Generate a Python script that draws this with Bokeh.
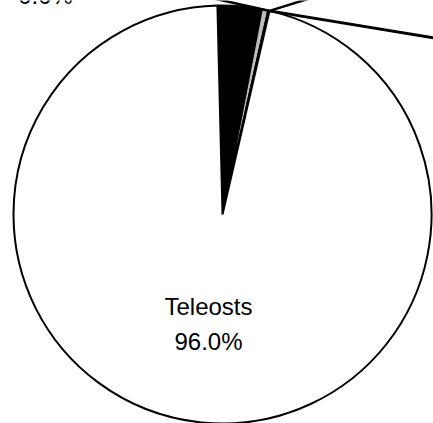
import math
from bokeh.plotting import figure
from bokeh.models import Range1d, ColumnDataSource
from bokeh.core.properties import value
from bokeh.embed import file_html
from bokeh.resources import INLINE

# ---- data ----
categories = ["Elasmobranchs", "Holocephalans", "Agnathans", "Sarcopterygians", "Chondrosteans", "Teleosts"]
percent = [3.4, 0.5, 0.1, 0.0, 0.0, 96.0]
pct_labels = ["3.4%", "0.5%", "0.1%", "0.0%", "0.0%", "96.0%"]

# ---- styles ----
fill_colors = ["black", "#bdbdbd", "white", "white", "white", "white"]

# ---- layout (page pixel coordinates, y downward) ----
M = 0
W, H = 433 - M, 423 - M
CX, CY, R = 222, 214, 209
START = -1.4     # degrees clockwise from 12 o'clock where first slice begins

p = figure(width=W, height=H, output_backend="svg", toolbar_location=None,
           x_range=Range1d(M, M + W), y_range=Range1d(-(M + H), -M),
           min_border=0, match_aspect=False)
p.axis.visible = False
p.grid.visible = False
p.outline_line_color = None
p.background_fill_color = "white"
p.border_fill_color = "white"

starts, ends, mids = [], [], []
acc = 0.0
for v in percent:
    t0 = START + acc * 3.6
    t1 = t0 + v * 3.6
    starts.append(t0); ends.append(t1); mids.append((t0 + t1) / 2)
    acc += v

def bang(theta):
    return math.radians(90 - theta)

idx = [i for i, v in enumerate(percent) if v > 0]
src = ColumnDataSource(dict(
    start=[bang(starts[i]) for i in idx],
    end=[bang(ends[i]) for i in idx],
    color=[fill_colors[i] for i in idx],
))
p.wedge(x=CX, y=-CY, radius=R, start_angle="start", end_angle="end",
        direction="clock", fill_color="color", line_color="black",
        line_width=2, source=src)

# leader lines for the small outside-labelled slices
leader_ends = {2: (186, -8), 3: (338, -11), 4: (480, 45)}
leader_w = {2: 2.5, 3: 2.5, 4: 3}
for i, (ex, ey) in leader_ends.items():
    th = math.radians(mids[i])
    sx = CX + R * math.sin(th)
    sy = CY - R * math.cos(th)
    p.line([sx, ex], [-sy, -ey], line_color="black", line_width=leader_w[i])

font = value("Liberation Sans")
ti = categories.index("Teleosts")
p.text(x=[208], y=[-306], text=[categories[ti]], text_align="center",
       text_baseline="alphabetic", text_font=font,
       text_font_size="24px", text_color="black")
p.text(x=[208], y=[-341], text=[pct_labels[ti]], text_align="center",
       text_baseline="alphabetic", text_font=font,
       text_font_size="24px", text_color="black")

# outside label, only its lower part falls inside the picture
p.text(x=[45], y=[5], text=[pct_labels[4]], text_align="center",
       text_baseline="alphabetic", text_font=font,
       text_font_size="24px", text_color="black")

open("out.html", "w").write(file_html(p, INLINE))
